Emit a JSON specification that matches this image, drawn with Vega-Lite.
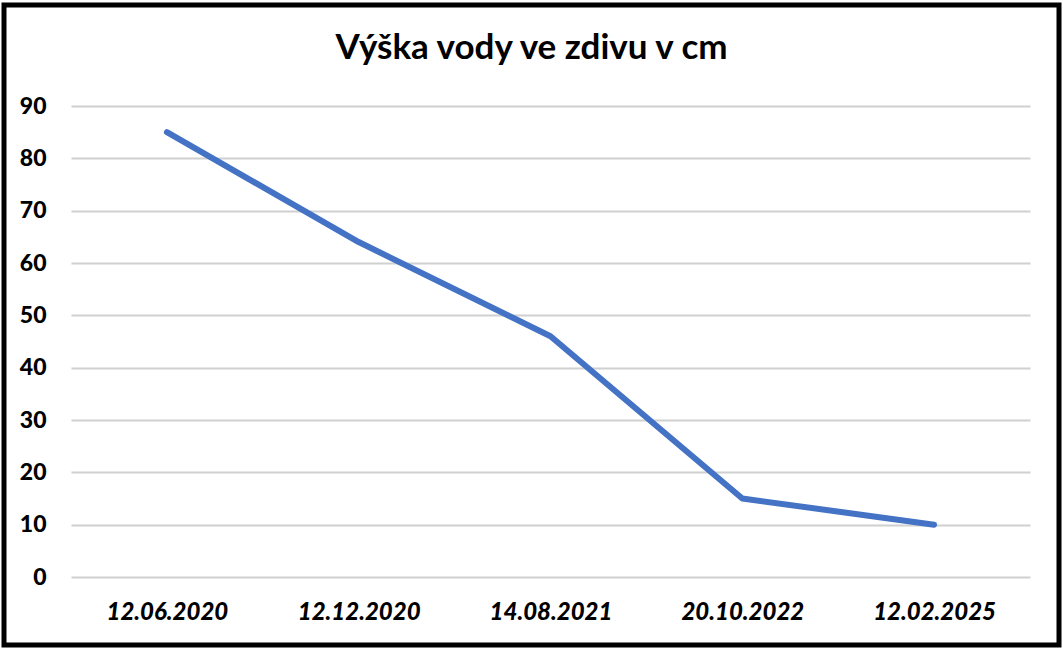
{
  "$schema": "https://vega.github.io/schema/vega-lite/v6.json",
  "width": 1055,
  "height": 640,
  "autosize": {"type": "none"},
  "padding": {"left": 4, "top": 5, "right": 4, "bottom": 4},
  "background": "white",
  "config": {
    "view": {"stroke": "black", "strokeWidth": 5, "fill": "white"},
    "font": "Lato"
  },
  "title": {
    "text": "Výška vody ve zdivu v cm",
    "font": "Lato",
    "fontSize": 35,
    "fontWeight": "bold",
    "color": "black",
    "anchor": "middle",
    "frame": "group",
    "baseline": "alphabetic",
    "offset": -89
  },
  "data": {
    "values": [
      {"datum_label": "12.06.2020", "value": 85},
      {"datum_label": "12.12.2020", "value": 64},
      {"datum_label": "14.08.2021", "value": 46},
      {"datum_label": "20.10.2022", "value": 15},
      {"datum_label": "12.02.2025", "value": 10}
    ]
  },
  "mark": {"type": "line", "color": "#4472C4", "strokeWidth": 6, "strokeCap": "round", "strokeJoin": "round"},
  "encoding": {
    "x": {
      "field": "datum_label",
      "type": "ordinal",
      "sort": null,
      "scale": {"type": "point", "padding": 0.5, "range": [67, 1026]},
      "axis": {
        "title": null,
        "domain": false,
        "ticks": false,
        "grid": false,
        "labelAngle": 0,
        "labelFont": "Lato",
        "labelFontSize": 24,
        "labelFontWeight": 900,
        "labelFontStyle": "italic",
        "labelColor": "black",
        "labelBaseline": "top",
        "labelPadding": 0,
        "offset": -45
      }
    },
    "y": {
      "field": "value",
      "type": "quantitative",
      "scale": {"domain": [0, 90], "range": [572, 101], "nice": false},
      "axis": {
        "title": null,
        "domain": false,
        "ticks": false,
        "values": [0, 10, 20, 30, 40, 50, 60, 70, 80, 90],
        "grid": true,
        "gridColor": "#d0d0d0",
        "gridWidth": 2,
        "labelFont": "Lato",
        "labelFontSize": 23,
        "labelFontWeight": 900,
        "labelColor": "black",
        "labelPadding": 0,
        "offset": -42
      }
    }
  }
}
